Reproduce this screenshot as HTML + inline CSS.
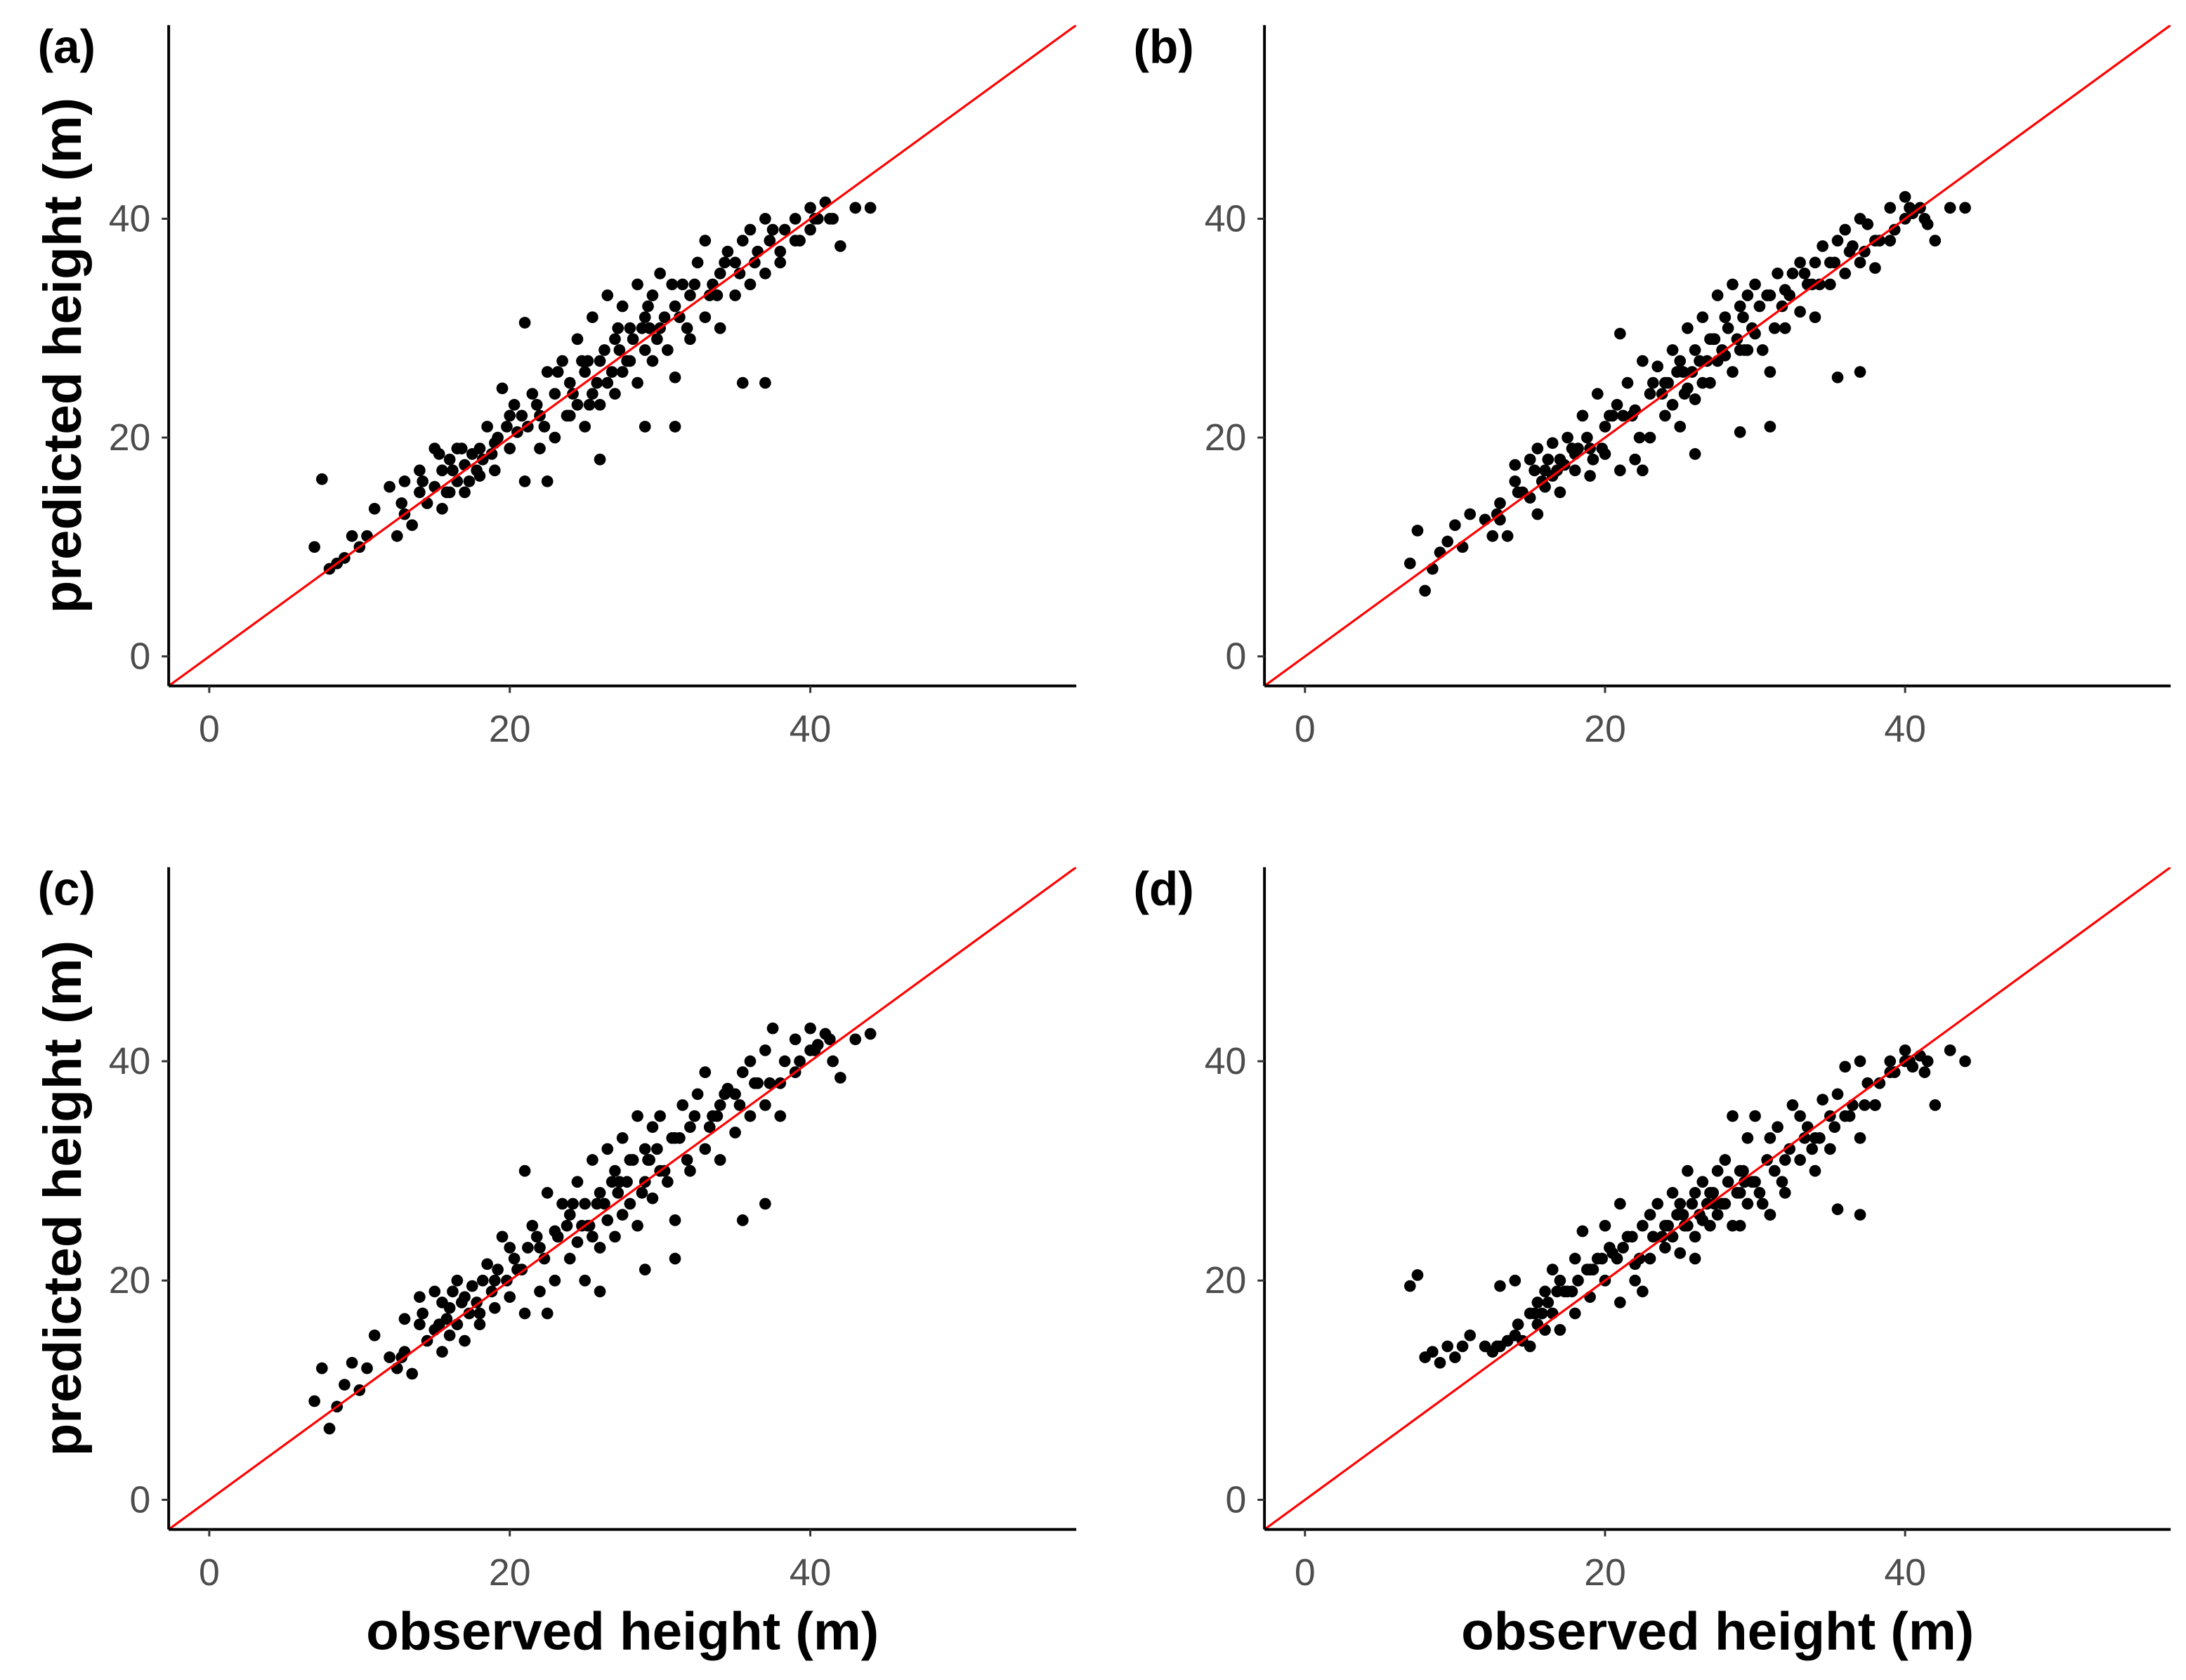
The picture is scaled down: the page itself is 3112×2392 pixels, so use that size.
<!DOCTYPE html>
<html><head><meta charset="utf-8"><style>
html,body{margin:0;padding:0;background:#fff;}
svg{display:block;}
text{font-family:"Liberation Sans",sans-serif;}
</style></head><body>
<svg id="chart" width="3112" height="2392" viewBox="0 0 1568 1205" preserveAspectRatio="none" xmlns="http://www.w3.org/2000/svg">
<rect width="1568" height="1205" fill="#fff"/>
</svg>
<script>
const observed=[7,7.5,8,8.5,9,9.5,10,11,12,12.5,13,13,13.5,14,14,14.5,15,15,15.5,15.5,16,16,16.5,16.5,17,17,17.5,18,18,18.5,19,19,19.5,20,20,20.5,21,21,21.5,22,22,22.5,23,23,23.5,24,24,24.5,24.5,25,25,25.5,25.5,26,26,26.5,26.5,27,27,27.5,27.5,28,28,28.5,28.5,29,29,29.5,29.5,30,30,30.5,31,31,31.5,32,32,32.5,33,33,33.5,34,34,34.5,35,35,35.5,36,36,36.5,37,37,37.5,38,38,39,39,40,40,40.5,41,41.5,42,43,44,35.5,37,31,29,22.5,26,
14.2,15.3,16.2,16.8,17.3,18.2,19.2,20.3,21.2,22.3,23.2,24.2,24.8,25.3,25.8,26.3,26.8,27.2,27.8,28.2,28.8,29.2,29.8,30.3,30.8,31.3,32.3,33.3,34.3,35.3,36.3,37.3,38.3,39.3,40.3,41.3,15.8,17.8,19.8,21.8,23.8,25.2,27.3,29.3,31.8,33.8,12.8,10.5,20.8,18.8];
const predA=[10,16.2,8,8.5,9,11,10,13.5,15.5,11,16,13,12,15,17,14,19,15.5,17,13.5,18,15,19,16,17.5,15,18.5,19,16.5,21,19.5,17,24.5,22,19,20.5,30.5,16,24,22,19,26,24,20,27,25,22,29,23,26,21,31,24,27,23,33,25,29,24,32,26,30,27,34,25,28,31,33,27,30,35,28,32,25.5,34,33,29,36,31,38,34,35,30,37,36,33,38,34,39,37,35,40,39,37,36,40,38,41,39,40,41.5,40,37.5,41,41,25,25,21,21,16,18,
16,18.5,17,19,16,18,20,23,21,21,26,24,27,23,25,28,26,30,27,29,30,32,29,31,34,31,34,33,36,35,36,38,39,38,40,40,15,17,21,23,22,27,28,30,30,33,14,11,22,18.5];
const predB=[8.5,11.5,6,8,9.5,10.5,12,13,12.5,11,14,12.5,11,16,17.5,15,18,14.5,19,13,17,15.5,19.5,16.5,18,15,20,18.5,17,22,19,16.5,24,21,18.5,22,29.5,17,25,22.5,18,27,24,20,26.5,25,22,28,23,27,21,30,24.5,28,23.5,31,25,29,25,33,27,31,27.5,34,26,28,32,33,28,29.5,34,28,33,26,35,33.5,30,35,31.5,36,34,36,31,37.5,36,34,38,35,39,37.5,36,40,39.5,38,35.5,41,38,42,40,40.5,41,39.5,38,41,41,25.5,26,21,20.5,17,18.5,
15,17,18,17,17.5,19,18,22,22,20,25,25,26,24,26,27,27,29,28,30,29,31,30,32,33,30,33,35,34,36,37,37,38,39,41,40,16,19,19,22,24,26,29,28,32,34,13,10,23,20];
const predC=[9,12,6.5,8.5,10.5,12.5,10,15,13,12,16.5,13.5,11.5,16,18.5,14.5,19,15.5,18,13.5,17.5,15,20,16,18.5,14.5,19.5,17,16,21.5,20,17.5,24,23,18.5,21,30,17,25,23,19,28,24.5,20,27,26,22,29,23.5,27,20,31,24,28,23,32,25.5,30,24,33,26,31,27,35,25,29,32,34,27.5,30,35,29,33,25.5,36,34,30,37,32,39,35,36,31,37.5,37,33.5,39,35,40,38,36,41,43,38,35,42,39,43,41,41.5,42.5,40,38.5,42,42.5,25.5,27,22,21,17,19,
17,16,19,18,17,20,21,22,23,22,24,27,25,25,27,27,29,28,29,31,28,31,32,30,33,33,35,34,37,36,38,38,40,40,41,42,16.5,18,20,24,25,25,29,31,31,35,13,12,21,19];
const predD=[19.5,20.5,13,13.5,12.5,14,13,15,14,13.5,19.5,14,14.5,15,20,14.5,17,14,18,16,19,15.5,21,17,20,15.5,19,22,17,24.5,21,18.5,22,25,20,22.5,27,18,24,21.5,20,25,26,22,27,25,23,28,24,27,22.5,30,25,28,24,29,25.5,28,25,30,26,31,27,35,25,28,30,33,27,29,35,27,33,26,34,31,28,36,31,35,34,33,30,36.5,35,32,37,35,39.5,36,33,40,38,36,36,40,39,41,40,39.5,40.5,40,36,41,40,26.5,26,26,25,19,22,
16,17,18,19,19,20,21,23,23,22,24,25,26,25,27,26,27,28,27,29,28,30,29,28,31,30,32,33,33,34,35,36,38,39,40,39,17,19,22,24,24,26,27,29,29,32,14,14,22,21];
const xTicks=[0,20,40];
const yTicks=[0,20,40];
const panelLabels=["(a)","(b)","(c)","(d)"];
const panelPreds=[predA,predB,predC,predD];
const domain=[-2.7,57.7];
const panels=[{L:121,R:772,T:18,B:492},{L:907,R:1557,T:18,B:492},{L:121,R:772,T:622,B:1097},{L:907,R:1557,T:622,B:1097}];
const svg=document.getElementById('chart');
const NS="http://www.w3.org/2000/svg";
function mk(tag,attrs,parent){const e=document.createElementNS(NS,tag);for(const k in attrs)e.setAttribute(k,attrs[k]);(parent||svg).appendChild(e);return e;}
panels.forEach((p,i)=>{
  const g=mk('g',{});
  
  
  const sx=v=>p.L+(v-domain[0])/(domain[1]-domain[0])*(p.R-p.L);
  const sy=v=>p.B-(v-domain[0])/(domain[1]-domain[0])*(p.B-p.T);
  const cid='clip'+i;
  const cp=mk('clipPath',{id:cid},g);mk('rect',{x:p.L,y:p.T,width:p.R-p.L,height:p.B-p.T},cp);
  const pts=mk('g',{'clip-path':'url(#'+cid+')'},g);
  
  
  const preds=panelPreds[i];
  observed.forEach((o,j)=>{
    const c=mk('circle',{cx:sx(o),cy:sy(preds[j]),r:4.2,fill:'#000'},pts);
    
    
  });
  const line=mk('line',{x1:sx(domain[0]),y1:sy(domain[0]),x2:sx(domain[1]),y2:sy(domain[1]),stroke:'#ff0000','stroke-width':1.6,'clip-path':'url(#'+cid+')'},g);
  
  
  const ya=mk('line',{x1:p.L,y1:p.T,x2:p.L,y2:p.B,stroke:'#000','stroke-width':2},g);
  
  
  const xa=mk('line',{x1:p.L,y1:p.B,x2:p.R,y2:p.B,stroke:'#000','stroke-width':2},g);
  
  
  xTicks.forEach(t=>{
    mk('line',{x1:sx(t),y1:p.B,x2:sx(t),y2:p.B+5,stroke:'#333','stroke-width':1.5},g);
    const tx=mk('text',{x:sx(t),y:p.B+40,'text-anchor':'middle','font-size':27,fill:'#4d4d4d'},g);
    tx.textContent=t;
    
    
  });
  yTicks.forEach(t=>{
    mk('line',{x1:p.L-5,y1:sy(t),x2:p.L,y2:sy(t),stroke:'#333','stroke-width':1.5},g);
    const tx=mk('text',{x:p.L-13,y:sy(t)+9,'text-anchor':'end','font-size':27,fill:'#4d4d4d'},g);
    tx.textContent=t;
    
    
  });
  const lb=mk('text',{x:p.L-94,y:p.T+27,'font-size':34,'font-weight':'bold',fill:'#000'},g);
  lb.textContent=panelLabels[i];
  
  
  if(i%2===0){
    const cy=(p.T+p.B)/2;
    const yt=mk('text',{x:0,y:0,transform:'translate(58,'+cy+') rotate(-90)','text-anchor':'middle','font-size':38.5,'font-weight':'bold',fill:'#000'},g);
    yt.textContent='predicted height (m)';
    
    
  }
  if(i>=2){
    const xt=mk('text',{x:(p.L+p.R)/2,y:1183,'text-anchor':'middle','font-size':38.5,'font-weight':'bold',fill:'#000'},g);
    xt.textContent='observed height (m)';
    
    
  }
});
</script>
</body></html>
